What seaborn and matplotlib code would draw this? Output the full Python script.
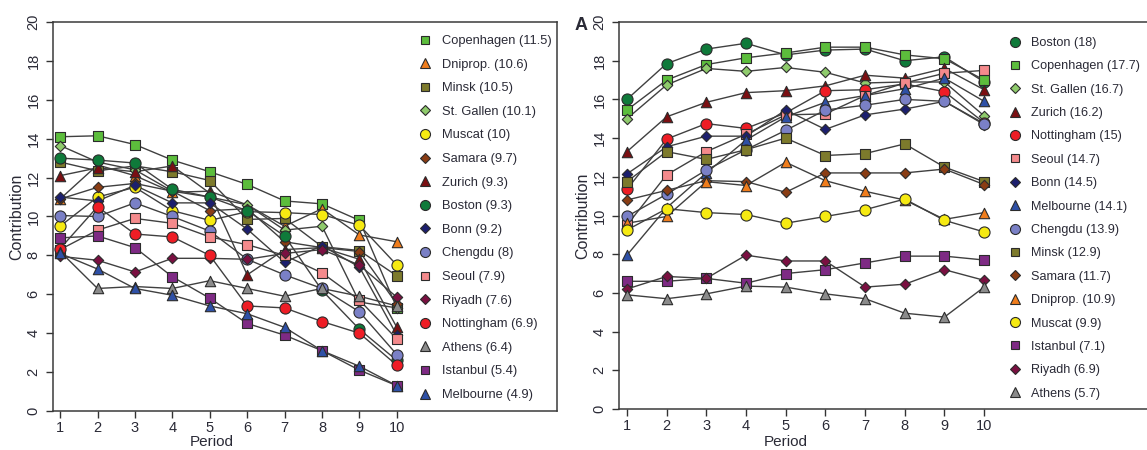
import matplotlib
matplotlib.use("Agg")
import matplotlib.pyplot as plt
import seaborn as sns
import pandas as pd
from matplotlib.lines import Line2D

# ---------------- data ----------------
periods = [1, 2, 3, 4, 5, 6, 7, 8, 9, 10]

# Left panel (no punishment)
left_order = ["Copenhagen", "Dniprop.", "Minsk", "St. Gallen", "Muscat", "Samara", "Zurich", "Boston",
              "Bonn", "Chengdu", "Seoul", "Riyadh", "Nottingham", "Athens", "Istanbul", "Melbourne"]
left_means = ["11.5", "10.6", "10.5", "10.1", "10", "9.7", "9.3", "9.3",
              "9.2", "8", "7.9", "7.6", "6.9", "6.4", "5.4", "4.9"]
l_copenhagen = [14.1, 14.15, 13.7, 12.9, 12.3, 11.65, 10.8, 10.65, 9.8, 5.3]
l_dniprop = [10.9, 12.65, 12.1, 11.25, 11.3, 10.6, 9.5, 10.4, 9.05, 8.7]
l_minsk = [12.8, 12.35, 12.6, 12.3, 11.85, 9.85, 9.9, 8.45, 8.25, 6.95]
l_stgallen = [13.65, 12.8, 12.4, 11.3, 11.0, 10.6, 9.3, 9.5, 5.6, 5.3]
l_muscat = [9.5, 11.0, 11.5, 10.3, 9.8, 10.25, 10.2, 10.1, 9.55, 7.5]
l_samara = [10.9, 11.5, 11.7, 11.3, 10.3, 10.4, 8.7, 8.4, 8.2, 5.5]
l_zurich = [12.1, 12.5, 12.3, 12.6, 11.2, 7.0, 8.3, 8.4, 7.8, 4.3]
l_boston = [13.0, 12.9, 12.75, 11.4, 11.0, 10.3, 9.0, 6.2, 4.2, 2.6]
l_bonn = [11.0, 10.8, 11.6, 10.7, 10.7, 9.35, 7.65, 8.5, 7.4, 3.9]
l_chengdu = [10.05, 10.0, 10.7, 10.0, 9.25, 7.8, 7.0, 6.3, 5.1, 2.9]
l_seoul = [8.3, 9.3, 9.9, 9.65, 8.95, 8.55, 8.0, 7.1, 5.7, 3.7]
l_riyadh = [7.95, 7.75, 7.15, 7.85, 7.85, 7.8, 8.1, 8.3, 7.5, 5.85]
l_nottingham = [8.35, 10.5, 9.1, 8.95, 8.0, 5.4, 5.3, 4.6, 4.0, 2.35]
l_athens = [8.2, 6.3, 6.4, 6.3, 6.7, 6.3, 5.9, 6.3, 5.9, 5.4]
l_istanbul = [8.9, 9.0, 8.4, 6.9, 5.8, 4.5, 3.9, 3.1, 2.1, 1.3]
l_melbourne = [8.1, 7.3, 6.3, 5.95, 5.4, 5.0, 4.3, 3.1, 2.3, 1.3]

# Right panel (with punishment)
right_order = ["Boston", "Copenhagen", "St. Gallen", "Zurich", "Nottingham", "Seoul", "Bonn", "Melbourne",
               "Chengdu", "Minsk", "Samara", "Dniprop.", "Muscat", "Istanbul", "Riyadh", "Athens"]
right_means = ["18", "17.7", "16.7", "16.2", "15", "14.7", "14.5", "14.1",
               "13.9", "12.9", "11.7", "10.9", "9.9", "7.1", "6.9", "5.7"]
r_boston = [16.0, 17.85, 18.6, 18.9, 18.3, 18.55, 18.6, 18.0, 18.2, 16.9]
r_copenhagen = [15.45, 17.0, 17.8, 18.15, 18.4, 18.7, 18.7, 18.3, 18.1, 17.0]
r_stgallen = [15.0, 16.75, 17.6, 17.45, 17.65, 17.4, 16.85, 16.9, 16.9, 15.15]
r_zurich = [13.3, 15.1, 15.85, 16.35, 16.45, 16.7, 17.25, 17.1, 17.6, 16.5]
r_nottingham = [11.35, 13.95, 14.75, 14.5, 15.3, 16.45, 16.5, 16.8, 16.4, 14.8]
r_seoul = [9.5, 12.1, 13.3, 14.2, 15.2, 15.25, 16.2, 16.85, 17.35, 17.5]
r_bonn = [12.15, 13.55, 14.1, 14.1, 15.45, 14.45, 15.2, 15.5, 15.9, 14.7]
r_melbourne = [7.95, 10.4, 12.2, 13.9, 15.1, 15.85, 16.2, 16.55, 17.1, 15.9]
r_chengdu = [9.95, 11.1, 12.35, 13.4, 14.4, 15.45, 15.7, 16.0, 15.9, 14.75]
r_minsk = [11.75, 13.3, 12.9, 13.4, 14.0, 13.1, 13.2, 13.7, 12.5, 11.75]
r_samara = [10.8, 11.3, 11.8, 11.75, 11.2, 12.2, 12.2, 12.2, 12.4, 11.6]
r_dniprop = [9.6, 9.95, 11.75, 11.55, 12.75, 11.8, 11.25, 10.8, 9.8, 10.15]
r_muscat = [9.25, 10.35, 10.15, 10.05, 9.6, 9.95, 10.3, 10.85, 9.75, 9.15]
r_istanbul = [6.6, 6.6, 6.75, 6.5, 7.0, 7.2, 7.55, 7.9, 7.9, 7.7]
r_riyadh = [6.2, 6.85, 6.75, 7.95, 7.65, 7.65, 6.3, 6.45, 7.2, 6.65]
r_athens = [5.9, 5.7, 5.95, 6.35, 6.3, 5.95, 5.7, 4.95, 4.75, 6.3]

yticks = [0, 2, 4, 6, 8, 10, 12, 14, 16, 18, 20]

left_values = {"Copenhagen": l_copenhagen, "Dniprop.": l_dniprop, "Minsk": l_minsk,
               "St. Gallen": l_stgallen, "Muscat": l_muscat, "Samara": l_samara,
               "Zurich": l_zurich, "Boston": l_boston, "Bonn": l_bonn, "Chengdu": l_chengdu,
               "Seoul": l_seoul, "Riyadh": l_riyadh, "Nottingham": l_nottingham,
               "Athens": l_athens, "Istanbul": l_istanbul, "Melbourne": l_melbourne}
right_values = {"Boston": r_boston, "Copenhagen": r_copenhagen, "St. Gallen": r_stgallen,
                "Zurich": r_zurich, "Nottingham": r_nottingham, "Seoul": r_seoul, "Bonn": r_bonn,
                "Melbourne": r_melbourne, "Chengdu": r_chengdu, "Minsk": r_minsk,
                "Samara": r_samara, "Dniprop.": r_dniprop, "Muscat": r_muscat,
                "Istanbul": r_istanbul, "Riyadh": r_riyadh, "Athens": r_athens}

# ---------------- style ----------------
colors = {"Copenhagen": "#5cbd3c", "Dniprop.": "#f07d1c", "Minsk": "#7d7a2c",
          "St. Gallen": "#8fcb6c", "Muscat": "#f6ea12", "Samara": "#8a3d14",
          "Zurich": "#7b0f12", "Boston": "#0f7a3a", "Bonn": "#1c1f6e",
          "Chengdu": "#7a80c6", "Seoul": "#f48a8c", "Riyadh": "#7a1041",
          "Nottingham": "#ee1d25", "Athens": "#8b8b8b", "Istanbul": "#7e2a84",
          "Melbourne": "#2e50a6"}
markers = {"Copenhagen": "s", "Dniprop.": "^", "Minsk": "s", "St. Gallen": "D", "Muscat": "o",
           "Samara": "D", "Zurich": "^", "Boston": "o", "Bonn": "D", "Chengdu": "o", "Seoul": "s",
           "Riyadh": "D", "Nottingham": "o", "Athens": "^", "Istanbul": "s", "Melbourne": "^"}
msize = {"o": 64, "s": 48, "^": 56, "D": 28}
lsize = {"o": 7.2, "s": 6.0, "^": 6.8, "D": 4.8}

sns.set_style("ticks")
plt.rcParams["font.family"] = ["Liberation Sans", "DejaVu Sans"]
txt = "#2a2a36"
edge = "#2b2b2b"

fig = plt.figure(figsize=(11.47, 4.5), dpi=100)
W, H = 1147.0, 450.0


def make_long(values, order):
    rows = []
    for c in order:
        for p, v in zip(periods, values[c]):
            rows.append({"city": c, "period": p, "value": v})
    return pd.DataFrame(rows)


def draw_panel(ax, values, order, means, xlim, leg_xy, legsize, spacing):
    df = make_long(values, order)
    sns.lineplot(data=df, x="period", y="value", units="city", estimator=None,
                 color="#404040", lw=1.0, ax=ax, zorder=2)
    for i, c in enumerate(order):
        sub = df[df.city == c]
        m = markers[c]
        sns.scatterplot(data=sub, x="period", y="value", marker=m, s=msize[m],
                        color=colors[c], edgecolor=edge, linewidth=0.8, ax=ax,
                        zorder=3 + i * 0.01, legend=False)
    ax.set_xlim(*xlim)
    ax.set_ylim(0, 20)
    ax.set_xticks(periods)
    ax.set_yticks(yticks)
    ax.set_yticklabels([str(t) for t in yticks], rotation=90, va="center")
    ax.tick_params(axis="both", direction="out", length=5, width=1.0, colors="#333333",
                   labelcolor=txt, labelsize=10.5)
    ax.tick_params(axis="x", pad=2.5)
    ax.tick_params(axis="y", pad=4)
    for s in ax.spines.values():
        s.set_color("#3a3a3a")
        s.set_linewidth(1.1)
    ax.set_xlabel("Period", fontsize=11, color=txt, labelpad=0)
    ax.set_ylabel("Contribution", fontsize=11.5, color=txt)
    handles = []
    for c, mval in zip(order, means):
        m = markers[c]
        handles.append(Line2D([], [], ls="none", marker=m, markersize=lsize[m],
                              markerfacecolor=colors[c], markeredgecolor=edge,
                              markeredgewidth=0.8, label=f"{c} ({mval})"))
    fig.legend(handles=handles, loc="upper left", bbox_to_anchor=leg_xy,
               bbox_transform=fig.transFigure, frameon=False, fontsize=legsize,
               handlelength=1.0, handletextpad=0.75, labelspacing=spacing,
               borderpad=0, borderaxespad=0, labelcolor=txt)


# left axes: x 53..557 px, y 22..411 px
axL = fig.add_axes([53 / W, 1 - 411 / H, (557 - 53) / W, (411 - 22) / H])
draw_panel(axL, left_values, left_order, left_means, (0.81, 14.28), (419 / W, 1 - 35 / H), 9.3, 0.895)
axL.xaxis.set_label_coords((212 - 53) / 504, (411 - 435.5) / 389)
axL.yaxis.set_label_coords((24 - 53) / 504, 0.5)

# right axes: x 619..1152 px (right edge cut), y 22..409 px
axR = fig.add_axes([619 / W, 1 - 409 / H, (1152 - 619) / W, (409 - 22) / H])
draw_panel(axR, right_values, right_order, right_means, (0.8, 14.23), (1009 / W, 1 - 37 / H), 9.1, 0.9)
axR.xaxis.set_label_coords((786 - 619) / 533, (409 - 435.5) / 387)
axR.yaxis.set_label_coords((590 - 619) / 533, 0.5)

fig.text(575 / W, 1 - 25 / H, "A", fontsize=13, fontweight="bold", color=txt,
         ha="left", va="center")

fig.savefig("out.png", dpi=100, facecolor="white")
